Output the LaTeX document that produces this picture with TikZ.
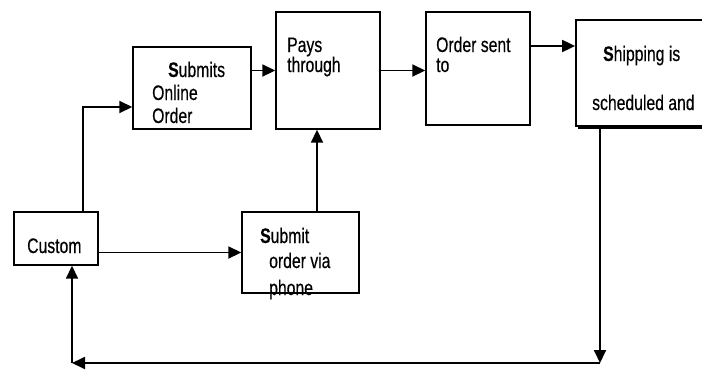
\documentclass[tikz,border=0pt]{standalone}
\usepackage{fontspec}
\setmainfont{Liberation Sans}[FakeStretch=0.75,FakeBold=0.4]
\usetikzlibrary{arrows.meta,shadows}

\begin{document}
\begin{tikzpicture}[
    x=1pt, y=-1pt,
    box/.style={rectangle, draw, line width=1.4pt, inner sep=0pt},
    txt/.style={anchor=base west, inner sep=0pt, font=\fontsize{21}{24}\selectfont},
    arr/.style={line width=1.8pt, -{Triangle[length=13pt,width=12pt]}}
]
\useasboundingbox (0,0) rectangle (702,370);

% Boxes
\node[box, minimum width=84pt, minimum height=53pt] (cust) at (56,238.5) {};
\node[box, minimum width=118pt, minimum height=82pt] (online) at (192,88) {};
\node[box, minimum width=104pt, minimum height=117pt] (pays) at (328,70.5) {};
\node[box, minimum width=104pt, minimum height=113pt] (sent) at (478,68.5) {};
\node[box, line width=1.8pt, fill=white, minimum width=128pt, minimum height=106pt,
      drop shadow={shadow xshift=2pt, shadow yshift=-3pt, fill=black, opacity=1}] (ship) at (640,73) {};
\node[box, minimum width=117pt, minimum height=81pt] (phone) at (300.5,252.5) {};

% Texts
\node[txt] (tcust) at (27,253) {Custom};
\node[txt] (tonline1) at (168,77) {\textbf{S}ubmits};
\node[txt] (tonline2) at (152,100) {Online};
\node[txt] (tonline3) at (152,123) {Order};
\node[txt] (tpays1) at (287,52) {Pays};
\node[txt] (tpays2) at (287,72) {through};
\node[txt] (tsent1) at (436,52) {Order sent};
\node[txt] (tsent2) at (436,72) {to};
\node[txt] (tship1) at (603,61) {\textbf{S}hipping is};
\node[txt] (tship2) at (592,110) {scheduled and};
\node[txt] (tphone1) at (260,243) {\textbf{S}ubmit};
\node[txt] (tphone2) at (269,268) {order via};
\node[txt] (tphone3) at (269,295) {phone};

% Return path
\coordinate (br) at (600,363);
\coordinate (bl) at (72,363);

% Edges
\draw[arr] ([xshift=27pt]cust.north) |- ([yshift=-19pt]online.west);
\draw[arr] (cust.east |- phone.west) -- (phone.west);
\draw[arr] ([xshift=16.5pt]phone.north) -- ([xshift=16.5pt]phone.north |- pays.south);
\draw[arr] (online.east |- pays.west) -- (pays.west);
\draw[arr] (pays.east) -- (pays.east -| sent.west);
\draw[arr] ([yshift=22.5pt]sent.east) -- ([yshift=22.5pt]sent.east -| ship.west);
\draw[arr] ([xshift=-40pt]ship.south) -- (br);
\draw[arr] (br) -- (bl);
\draw[arr] (bl) -- (bl |- cust.south);

\end{tikzpicture}
\end{document}
